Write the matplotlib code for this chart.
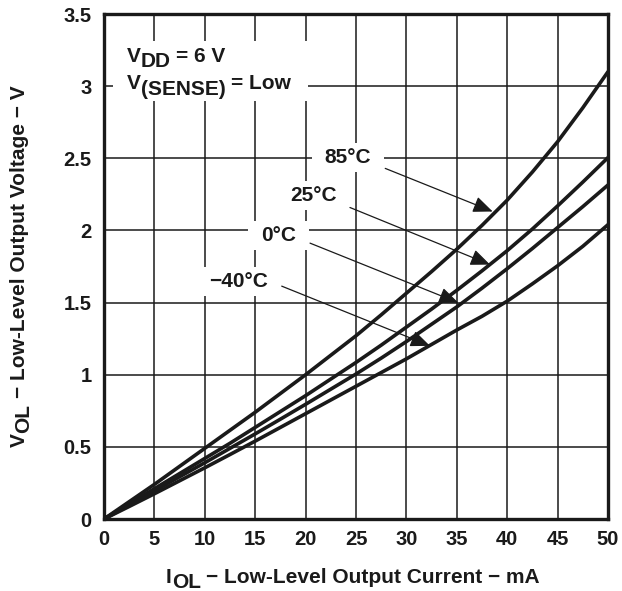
import numpy as np
import matplotlib
matplotlib.use('Agg')
import matplotlib.pyplot as plt
from matplotlib.transforms import IdentityTransform
from matplotlib.patches import Rectangle

# values (I_OL in mA, V_OL in V)
current = [0, 2.5, 5, 7.5, 10, 12.5, 15, 17.5, 20, 22.5, 25,
           27.5, 30, 32.5, 35, 37.5, 40, 42.5, 45, 47.5, 50]
v_85 = [0, 0.12, 0.24, 0.365, 0.49, 0.615, 0.74, 0.87, 1.0, 1.135, 1.27,
        1.415, 1.565, 1.715, 1.87, 2.035, 2.21, 2.405, 2.615, 2.85, 3.10]
v_25 = [0, 0.105, 0.21, 0.315, 0.42, 0.525, 0.635, 0.745, 0.855, 0.97, 1.085,
        1.205, 1.33, 1.455, 1.585, 1.72, 1.86, 2.01, 2.17, 2.335, 2.505]
v_0 = [0, 0.098, 0.195, 0.293, 0.39, 0.49, 0.59, 0.692, 0.795, 0.9, 1.005,
       1.115, 1.23, 1.35, 1.47, 1.6, 1.735, 1.875, 2.02, 2.165, 2.315]
v_m40 = [0, 0.087, 0.175, 0.265, 0.355, 0.447, 0.54, 0.635, 0.73, 0.825, 0.92,
         1.015, 1.11, 1.21, 1.31, 1.405, 1.51, 1.63, 1.755, 1.89, 2.04]

x_ticks = list(range(0, 55, 5))
y_ticks = [0, 0.5, 1, 1.5, 2, 2.5, 3, 3.5]
y_tick_labels = ['0', '0.5', '1', '1.5', '2', '2.5', '3', '3.5']

# label text, label centre, arrow start, arrow tip
labels = [
    ('85°C', (24.2, 2.507), (27.9, 2.43), (38.56, 2.131)),
    ('25°C', (20.77, 2.24), (24.4, 2.159), (38.3, 1.763)),
    ('0°C', (17.36, 1.966), (20.44, 1.912), (35.15, 1.499)),
    ('\u221240°C', (13.3, 1.645), (17.63, 1.614), (32.34, 1.2)),
]

FS = 15
INK = '#1a1a1a'

plt.rcParams['font.family'] = ['Liberation Sans', 'DejaVu Sans']
plt.rcParams['font.weight'] = 'bold'

fig = plt.figure(figsize=(6.22, 5.91), dpi=100)
ax = fig.add_axes([0.1672, 0.1218, 0.8103, 0.8545])


def rich_text(x_px, y_px, runs, size, rotation=0, center=False):
    """Write runs of (text, drop_px) one after another; subscripts are full size, just lowered."""
    renderer = fig.canvas.get_renderer()
    rad = np.deg2rad(rotation)
    u = np.array([np.cos(rad), np.sin(rad)])
    n = np.array([-u[1], u[0]])
    space = 0.278 * size * fig.dpi / 72
    parts = []
    for s, drop in runs:
        lead = len(s) - len(s.lstrip(' '))
        s = s.strip(' ')
        t = fig.text(0, 0, s, fontsize=size, fontweight='bold')
        w = t.get_window_extent(renderer).width
        t.remove()
        parts.append((s, drop, lead * space, w))
    total = sum(p[2] + p[3] for p in parts)
    start = np.array([x_px, y_px], float)
    if center:
        start -= u * total / 2
    pos = 0
    for s, drop, lead, w in parts:
        pos += lead
        p = start + u * pos - n * drop
        fig.text(p[0], p[1], s, fontsize=size, fontweight='bold', color=INK,
                 rotation=rotation, rotation_mode='anchor', ha='left', va='baseline',
                 transform=IdentityTransform(), zorder=6)
        pos += w


for v in (v_85, v_25, v_0, v_m40):
    ax.plot(current, v, color=INK, lw=2.6, solid_capstyle='round', zorder=3)

ax.set_xlim(0, 50)
ax.set_ylim(0, 3.5)
ax.set_xticks(x_ticks)
ax.set_yticks(y_ticks)
ax.set_yticklabels(y_tick_labels)
ax.tick_params(length=0, labelsize=14.5, colors=INK)
ax.tick_params(axis='x', pad=8)
ax.tick_params(axis='y', pad=9)
ax.grid(True, color=INK, lw=1.1, zorder=1)
for s in ax.spines.values():
    s.set_linewidth(2.4)
    s.set_color(INK)
    s.set_zorder(7)

fig.canvas.draw()
renderer = fig.canvas.get_renderer()

for text, pos, start, tip in labels:
    t = ax.text(pos[0], pos[1], text, fontsize=FS, fontweight='bold', ha='center', va='center',
                color=INK, zorder=6)
    bb = t.get_window_extent(renderer)
    # white knock-out behind the label, wider than tall like the datasheet
    ax.add_patch(Rectangle((bb.x0 - 13, bb.y0 - 5), bb.width + 26, bb.height + 10,
                           transform=IdentityTransform(), facecolor='white',
                           edgecolor='none', zorder=5))
    ax.annotate('', xy=tip, xytext=start,
                arrowprops=dict(arrowstyle='-|>,head_length=1.2,head_width=0.5',
                                color=INK, lw=0.9, shrinkA=0, shrinkB=0),
                zorder=5.5)

# white patch behind the supply conditions
ax.add_patch(Rectangle((0.9, 2.90), 19.3, 0.415, facecolor='white', edgecolor='none', zorder=2))

x0, y1 = ax.transData.transform((2.25, 3.170))
_, y2 = ax.transData.transform((2.25, 2.977))
rich_text(x0, y1, [('V', 0), ('DD', 5.8), (' = 6 V', 0)], FS)
rich_text(x0, y2, [('V', 0), ('(SENSE)', 6.0), (' = Low', 0)], FS)

# axis titles
rich_text(353, 7.7, [('I', 0), ('OL', 4.5), (' \u2212 Low-Level Output Current \u2212 mA', 0)],
          FS, center=True)
_, yc = ax.transAxes.transform((0, 0.5))
rich_text(25, yc, [('V', 0), ('OL', 4.5), (' \u2212 Low-Level Output Voltage \u2212 V', 0)],
          FS, rotation=90, center=True)

fig.savefig('out.png', dpi=100)
